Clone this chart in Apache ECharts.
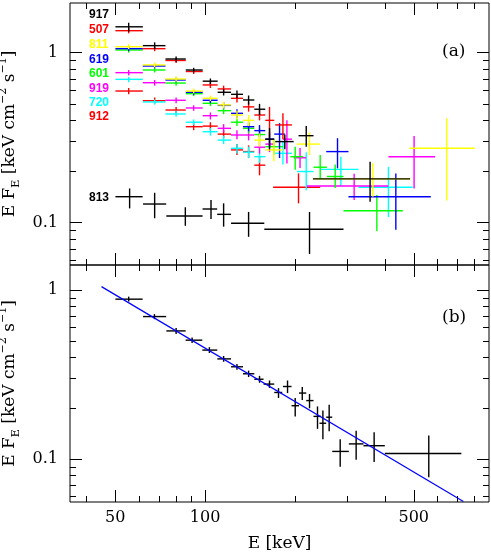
<!DOCTYPE html>
<html>
<head>
<meta charset="utf-8">
<script src="https://cdn.jsdelivr.net/npm/echarts@6/dist/echarts.min.js"></script>
<style>
html, body { margin: 0; padding: 0; background: #fff; }
#main { width: 491px; height: 554px; }
</style>
</head>
<body>
<div id="main"></div>
<script>
// rows: [E, E_lo, E_hi, EF_E, EF_E_lo, EF_E_hi]   (keV / keV cm^-2 s^-1)

// (a) single bursts
var p917 = [
    [55.5, 50.1, 61.9, 1.42, 1.33, 1.50],
    [67.8, 61.9, 73.7, 1.10, 1.05, 1.15],
    [80.0, 73.7, 86.2, 0.918, 0.885, 0.95],
    [91.6, 86.2, 98.2, 0.791, 0.765, 0.815],
    [104.2, 98.2, 110.2, 0.68, 0.655, 0.705],
    [115.4, 110.2, 122.2, 0.585, 0.56, 0.61],
    [127.9, 122.2, 134.0, 0.569, 0.54, 0.60],
    [139.9, 134.0, 146.2, 0.527, 0.495, 0.56],
    [152.2, 146.2, 159.1, 0.465, 0.43, 0.50],
    [164.4, 159.1, 170.5, 0.31, 0.27, 0.36],
    [185.0, 171.8, 198.0, 0.30, 0.27, 0.33],
    [218.2, 205.6, 230.8, 0.325, 0.28, 0.37],
    [357.0, 229.7, 486.0, 0.181, 0.133, 0.228]
];
var p507 = [
    [55.5, 50.1, 61.9, 1.347, 1.30, 1.40],
    [67.8, 61.9, 73.7, 1.056, 1.02, 1.09],
    [80.0, 73.7, 86.2, 0.90, 0.87, 0.93],
    [91.6, 86.2, 98.2, 0.775, 0.75, 0.80],
    [104.2, 98.2, 110.2, 0.646, 0.62, 0.67],
    [115.4, 110.2, 122.2, 0.612, 0.585, 0.64],
    [127.9, 122.2, 134.0, 0.539, 0.51, 0.57],
    [139.9, 134.0, 146.2, 0.48, 0.45, 0.51],
    [152.2, 146.2, 159.1, 0.43, 0.40, 0.46],
    [164.4, 159.1, 170.5, 0.40, 0.32, 0.48],
    [182.3, 171.8, 195.4, 0.376, 0.31, 0.44]
];
var p811 = [
    [55.5, 50.1, 61.9, 1.085, 1.05, 1.12],
    [67.8, 61.9, 73.7, 0.847, 0.82, 0.875],
    [80.0, 73.7, 86.2, 0.70, 0.675, 0.725],
    [91.6, 86.2, 98.2, 0.595, 0.575, 0.615],
    [104.2, 98.2, 110.2, 0.539, 0.52, 0.56],
    [115.4, 110.2, 122.2, 0.493, 0.47, 0.515],
    [127.9, 122.2, 134.0, 0.43, 0.405, 0.455],
    [139.9, 134.0, 146.2, 0.40, 0.37, 0.43],
    [152.2, 146.2, 159.1, 0.306, 0.28, 0.335],
    [170.0, 159.1, 182.3, 0.268, 0.23, 0.31],
    [223.8, 203.1, 243.0, 0.29, 0.25, 0.34],
    [364.7, 230.8, 486.0, 0.181, 0.142, 0.224],
    [644.8, 483.4, 801.7, 0.274, 0.135, 0.411]
];
var p619 = [
    [55.5, 50.1, 61.9, 1.056, 1.02, 1.09],
    [67.8, 61.9, 73.7, 0.835, 0.81, 0.86],
    [80.0, 73.7, 86.2, 0.691, 0.67, 0.715],
    [91.6, 86.2, 98.2, 0.585, 0.565, 0.605],
    [104.2, 98.2, 110.2, 0.525, 0.505, 0.545],
    [115.4, 110.2, 122.2, 0.49, 0.47, 0.51],
    [127.9, 122.2, 134.0, 0.44, 0.415, 0.465],
    [139.9, 134.0, 146.2, 0.367, 0.345, 0.39],
    [152.2, 146.2, 159.1, 0.348, 0.32, 0.375],
    [164.4, 159.1, 170.5, 0.31, 0.28, 0.34],
    [177.6, 170.5, 185.0, 0.332, 0.24, 0.385],
    [277.7, 254.5, 302.2, 0.262, 0.209, 0.314],
    [435.4, 302.2, 570.1, 0.142, 0.091, 0.195]
];
var p601 = [
    [55.5, 50.1, 61.9, 1.037, 1.00, 1.07],
    [67.8, 61.9, 73.7, 0.791, 0.765, 0.815],
    [80.0, 73.7, 86.2, 0.663, 0.64, 0.685],
    [91.6, 86.2, 98.2, 0.574, 0.555, 0.595],
    [104.2, 98.2, 110.2, 0.504, 0.485, 0.525],
    [115.4, 110.2, 122.2, 0.456, 0.435, 0.475],
    [127.9, 122.2, 134.0, 0.39, 0.37, 0.41],
    [139.9, 134.0, 146.2, 0.359, 0.335, 0.385],
    [152.2, 146.2, 159.1, 0.33, 0.30, 0.36],
    [170.0, 159.1, 182.3, 0.28, 0.25, 0.31],
    [200.4, 193.0, 213.0, 0.2445, 0.205, 0.28],
    [243.0, 230.8, 255.9, 0.212, 0.18, 0.25],
    [272.8, 255.9, 290.8, 0.187, 0.16, 0.22],
    [376.1, 290.8, 459.5, 0.1177, 0.089, 0.1455]
];
var p919 = [
    [55.5, 50.1, 61.9, 0.763, 0.735, 0.79],
    [67.8, 61.9, 73.7, 0.666, 0.64, 0.69],
    [80.0, 73.7, 86.2, 0.525, 0.505, 0.545],
    [91.6, 86.2, 98.2, 0.473, 0.455, 0.49],
    [104.2, 98.2, 110.2, 0.426, 0.405, 0.445],
    [115.4, 110.2, 122.2, 0.359, 0.34, 0.38],
    [127.9, 122.2, 134.0, 0.328, 0.31, 0.35],
    [139.9, 134.0, 146.2, 0.328, 0.305, 0.35],
    [152.2, 146.2, 159.1, 0.278, 0.255, 0.30],
    [164.4, 159.1, 170.5, 0.29, 0.26, 0.32],
    [188.0, 182.3, 195.4, 0.31, 0.223, 0.40],
    [208.0, 198.0, 218.0, 0.241, 0.21, 0.275],
    [315.7, 219.2, 411.2, 0.1644, 0.136, 0.194],
    [501.2, 411.2, 589.2, 0.2445, 0.159, 0.324]
];
var p720 = [
    [55.5, 50.1, 61.9, 0.697, 0.67, 0.72],
    [67.8, 61.9, 73.7, 0.513, 0.495, 0.53],
    [80.0, 73.7, 86.2, 0.436, 0.42, 0.455],
    [91.6, 86.2, 98.2, 0.39, 0.375, 0.405],
    [104.2, 98.2, 110.2, 0.343, 0.325, 0.36],
    [115.4, 110.2, 122.2, 0.306, 0.29, 0.325],
    [127.9, 122.2, 134.0, 0.274, 0.255, 0.29],
    [139.9, 134.0, 146.2, 0.26, 0.24, 0.28],
    [152.2, 146.2, 159.1, 0.2445, 0.225, 0.265],
    [182.3, 171.8, 195.4, 0.256, 0.22, 0.30],
    [218.2, 203.1, 230.8, 0.20, 0.155, 0.26],
    [285.0, 243.0, 326.4, 0.206, 0.1644, 0.2445],
    [411.2, 326.4, 496.3, 0.1615, 0.108, 0.213]
];
var p912 = [
    [55.5, 50.1, 61.9, 0.595, 0.57, 0.62],
    [67.8, 61.9, 73.7, 0.522, 0.50, 0.545],
    [80.0, 73.7, 86.2, 0.46, 0.44, 0.48],
    [91.6, 86.2, 98.2, 0.367, 0.35, 0.385],
    [104.2, 98.2, 110.2, 0.37, 0.35, 0.39],
    [115.4, 110.2, 122.2, 0.332, 0.315, 0.35],
    [127.9, 122.2, 134.0, 0.268, 0.25, 0.29],
    [139.9, 134.0, 146.2, 0.262, 0.24, 0.285],
    [152.2, 146.2, 159.1, 0.218, 0.19, 0.245],
    [205.6, 169.0, 243.0, 0.1615, 0.13, 0.195]
];
var p813 = [
    [55.9, 50.1, 61.8, 0.1422, 0.1214, 0.159],
    [67.8, 62.0, 74.1, 0.1288, 0.1062, 0.150],
    [85.9, 74.2, 98.1, 0.1095, 0.0959, 0.1233],
    [104.7, 98.1, 109.8, 0.1204, 0.105, 0.1362],
    [115.4, 109.8, 122.2, 0.112, 0.0948, 0.130],
    [139.9, 122.2, 157.9, 0.0992, 0.0826, 0.1157],
    [223.8, 157.9, 290.8, 0.0915, 0.0655, 0.1157]
];

// (b) summed spectrum and power-law model
var pSum = [
    [55.5, 50.1, 61.8, 0.885, 0.857, 0.916],
    [67.7, 62.0, 74.1, 0.698, 0.674, 0.722],
    [80.0, 74.2, 86.1, 0.574, 0.551, 0.598],
    [90.5, 86.1, 97.9, 0.506, 0.487, 0.525],
    [103.4, 97.9, 109.9, 0.442, 0.425, 0.46],
    [115.4, 109.9, 122.2, 0.392, 0.377, 0.408],
    [127.9, 122.2, 134.0, 0.352, 0.338, 0.366],
    [139.9, 134.0, 146.2, 0.320, 0.306, 0.334],
    [152.2, 146.2, 157.0, 0.297, 0.283, 0.311],
    [164.4, 157.0, 170.5, 0.278, 0.264, 0.292],
    [176.2, 170.5, 181.3, 0.248, 0.230, 0.263],
    [188.9, 182.3, 194.8, 0.269, 0.246, 0.292],
    [200.4, 194.8, 206.3, 0.207, 0.179, 0.230],
    [211.6, 206.3, 218.2, 0.246, 0.224, 0.267],
    [223.8, 218.2, 230.8, 0.222, 0.200, 0.243],
    [238.0, 230.8, 244.3, 0.179, 0.151, 0.205],
    [248.1, 241.7, 254.5, 0.163, 0.131, 0.194],
    [260.4, 254.5, 266.6, 0.177, 0.146, 0.210],
    [283.5, 266.6, 303.0, 0.111, 0.090, 0.131],
    [320.6, 303.0, 339.2, 0.123, 0.099, 0.147],
    [368.3, 339.2, 400.0, 0.120, 0.096, 0.144],
    [561.3, 400.0, 721.4, 0.108, 0.078, 0.138]
];
var fitE = [45, 733];
var fitF = [1.05, 0.0561];

// ticks
var xMajor = [50, 100, 500];
var xMinor = [40, 60, 70, 80, 90, 200, 300, 400, 600, 700, 800];
var yMajor = [0.1, 1];
var yMinor = [0.06, 0.07, 0.08, 0.09, 0.2, 0.3, 0.4, 0.5, 0.6, 0.7, 0.8, 0.9];

var xRange  = [35.3, 893];
var yRangeA = [0.0564, 1.96];
var yRangeB = [0.0557, 1.41];

var lg = Math.log10;
var serif = 'DejaVu Serif';

function fmtLog(v) {
    var t = Math.pow(10, v);
    if (t >= 1) return String(Math.round(t));
    return String(Math.round(t * 10) / 10);
}

function axis(gridIndex, pos, range, ticks, len, label) {
    var a = {
        type: 'value',
        gridIndex: gridIndex,
        position: pos,
        min: lg(range[0]),
        max: lg(range[1]),
        axisLine: {show: false, onZero: false},
        splitLine: {show: false},
        axisTick: {
            show: true, inside: true, length: len,
            customValues: ticks.map(lg),
            lineStyle: {color: '#000', width: 1}
        },
        axisLabel: {show: false}
    };
    if (label) {
        a.axisLabel = {
            show: true,
            customValues: ticks.map(lg),
            formatter: fmtLog,
            color: '#000',
            fontFamily: serif,
            fontSize: 16,
            margin: label
        };
    }
    return a;
}

var yName = '{n|E F}{s|E}{n| [keV cm}{p|\u22122}{n| s}{p|\u22121}{n|]}';
var yNameStyle = {
    color: '#000',
    rich: {
        n: {fontFamily: serif, fontSize: 17, lineHeight: 24, color: '#000'},
        s: {fontFamily: serif, fontSize: 11, lineHeight: 11, verticalAlign: 'bottom', color: '#000'},
        p: {fontFamily: serif, fontSize: 11, lineHeight: 11, verticalAlign: 'top', color: '#000'}
    }
};

var xAxes = [];
var yAxes = [];
[yRangeA, yRangeB].forEach(function (yr, g) {
    xAxes.push(axis(g, 'bottom', xRange, xMajor, 12, g === 1 ? 8 : 0));
    xAxes.push(axis(g, 'bottom', xRange, xMinor, 6, 0));
    xAxes.push(axis(g, 'top', xRange, xMajor, 12, 0));
    xAxes.push(axis(g, 'top', xRange, xMinor, 6, 0));
    var yl = axis(g, 'left', yr, yMajor, 12, 12);
    yl.name = yName;
    yl.nameLocation = 'middle';
    yl.nameRotate = 90;
    yl.nameGap = 45;
    yl.nameTextStyle = yNameStyle;
    yAxes.push(yl);
    yAxes.push(axis(g, 'left', yr, yMinor, 6, 0));
    yAxes.push(axis(g, 'right', yr, yMajor, 12, 0));
    yAxes.push(axis(g, 'right', yr, yMinor, 6, 0));
});
xAxes[4].name = 'E [keV]';
xAxes[4].nameLocation = 'middle';
xAxes[4].nameGap = 33;
xAxes[4].nameTextStyle = {fontFamily: serif, fontSize: 17, color: '#000'};

function crosses(rows, color, panel) {
    return {
        type: 'custom',
        xAxisIndex: panel * 4,
        yAxisIndex: panel * 4,
        clip: true,
        silent: true,
        data: rows.map(function (r) { return r.map(lg); }),
        encode: {x: [0, 1, 2], y: [3, 4, 5]},
        renderItem: function (params, api) {
            var l = api.coord([api.value(1), api.value(3)]);
            var r = api.coord([api.value(2), api.value(3)]);
            var b = api.coord([api.value(0), api.value(4)]);
            var t = api.coord([api.value(0), api.value(5)]);
            var st = {stroke: color, lineWidth: 1.4};
            return {
                type: 'group',
                children: [
                    {type: 'line', shape: {x1: l[0], y1: l[1], x2: r[0], y2: r[1]}, style: st},
                    {type: 'line', shape: {x1: b[0], y1: b[1], x2: t[0], y2: t[1]}, style: st}
                ]
            };
        }
    };
}

var labels = [
    ['917', '#000000', 15],
    ['507', '#ff0000', 30],
    ['811', '#ffff00', 44.3],
    ['619', '#0000ff', 59.3],
    ['601', '#00ff00', 74],
    ['919', '#ff00ff', 88.3],
    ['720', '#00ffff', 102.3],
    ['912', '#ff0000', 116.7],
    ['813', '#000000', 197.3]
];
var graphics = labels.map(function (s) {
    return {
        type: 'text', x: 89, y: s[2], silent: true,
        style: {text: s[0], fill: s[1], font: 'bold 12px "Liberation Sans"', verticalAlign: 'middle'}
    };
});
graphics.push({type: 'text', x: 442, y: 52, style: {text: '(a)', fill: '#000', font: '17px "DejaVu Serif"', verticalAlign: 'middle'}});
graphics.push({type: 'text', x: 442, y: 318, style: {text: '(b)', fill: '#000', font: '17px "DejaVu Serif"', verticalAlign: 'middle'}});

var chart = echarts.init(document.getElementById('main'), null, {renderer: 'canvas'});

option = {
    animation: false,
    backgroundColor: '#fff',
    grid: [
        {left: 70, right: 2, top: 3, height: 262, show: true, borderColor: '#000', borderWidth: 1,
         containLabel: false, outerBoundsMode: 'none'},
        {left: 70, right: 2, top: 265, height: 237, show: true, borderColor: '#000', borderWidth: 1,
         containLabel: false, outerBoundsMode: 'none'}
    ],
    xAxis: xAxes,
    yAxis: yAxes,
    graphic: graphics,
    series: [
        crosses(p813, '#000000', 0),
        crosses(p912, '#ff0000', 0),
        crosses(p720, '#00ffff', 0),
        crosses(p919, '#ff00ff', 0),
        crosses(p601, '#00ff00', 0),
        crosses(p619, '#0000ff', 0),
        crosses(p811, '#ffff00', 0),
        crosses(p507, '#ff0000', 0),
        crosses(p917, '#000000', 0),
        {
            type: 'line',
            xAxisIndex: 4,
            yAxisIndex: 4,
            symbol: 'none',
            silent: true,
            data: [[lg(fitE[0]), lg(fitF[0])], [lg(fitE[1]), lg(fitF[1])]],
            lineStyle: {color: '#0000ff', width: 1.2}
        },
        crosses(pSum, '#000000', 1)
    ]
};

chart.setOption(option, true);
</script>
</body>
</html>
